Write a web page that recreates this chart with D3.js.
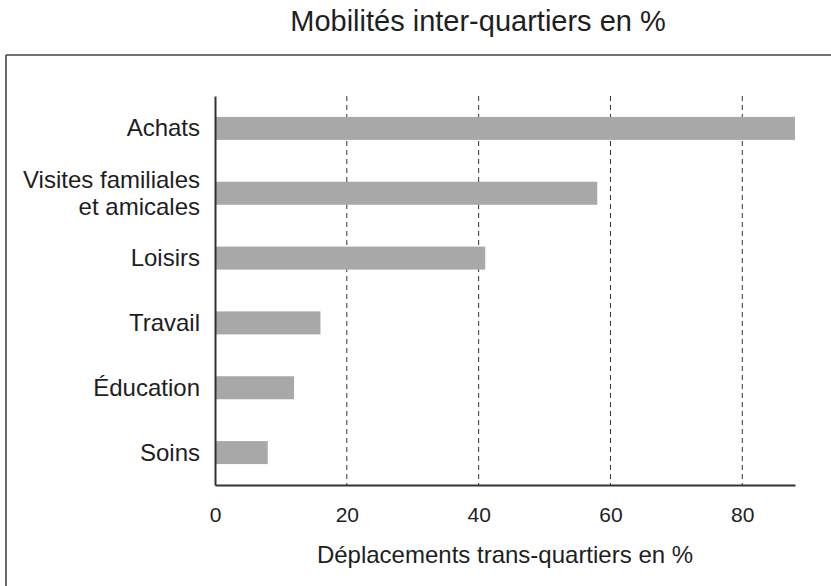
<!DOCTYPE html>
<html>
<head>
<meta charset="utf-8">
<script src="https://cdn.jsdelivr.net/npm/d3@7"></script>
<style>
  html, body { margin: 0; padding: 0; background: #fff; overflow: hidden; }
  svg { display: block; }
  text { font-family: "Liberation Sans", Arial, Helvetica, sans-serif; fill: #1e1e1e; }
</style>
</head>
<body>
<div id="chart"></div>
<script>

// data
var categories = ["Achats", "Visites familiales|et amicales", "Loisirs", "Travail", "Éducation", "Soins"];
var values = [88, 58, 41, 16, 12, 8];
var tickValues = [0, 20, 40, 60, 80];
var title = "Mobilités inter-quartiers en %";
var xTitle = "Déplacements trans-quartiers en %";

var width = 831, height = 586;
var margin = { top: 96, right: 36, bottom: 101, left: 215 };
var innerWidth = width - margin.left - margin.right;
var innerHeight = height - margin.top - margin.bottom;

var data = categories.map((c, i) => ({ cat: c, value: values[i] }));

var svg = d3.select("#chart").append("svg")
    .attr("width", width)
    .attr("height", height);

// frame: left and top edges only, the rest lies outside the picture
svg.append("line")
    .attr("x1", 6).attr("x2", 6)
    .attr("y1", 55).attr("y2", height)
    .attr("stroke", "#444").attr("stroke-width", 1.6);
svg.append("line")
    .attr("x1", 6).attr("x2", width)
    .attr("y1", 55).attr("y2", 55)
    .attr("stroke", "#444").attr("stroke-width", 1.6);

// title
svg.append("text")
    .attr("x", 478)
    .attr("y", 31)
    .attr("text-anchor", "middle")
    .style("font-size", "29px")
    .text(title);

var g = svg.append("g")
    .attr("transform", `translate(${margin.left}, ${margin.top})`);

/* Scales */
var xScale = d3.scaleLinear()
    .domain([0, 88])
    .range([0, innerWidth]);

var yScale = d3.scaleBand()
    .domain(categories)
    .range([0, innerHeight])
    .paddingInner(0.645)
    .paddingOuter(0.3225);

// dashed grid lines
g.selectAll(".grid")
    .data(tickValues.filter(d => d > 0))
    .enter().append("line")
    .attr("class", "grid")
    .attr("x1", d => xScale(d))
    .attr("x2", d => xScale(d))
    .attr("y1", 0)
    .attr("y2", innerHeight)
    .attr("stroke", "#333")
    .attr("stroke-width", 1)
    .attr("stroke-dasharray", "5,4");

// bars
g.selectAll(".bar")
    .data(data)
    .enter().append("rect")
    .attr("class", "bar")
    .attr("x", 0)
    .attr("y", d => yScale(d.cat))
    .attr("width", d => xScale(d.value))
    .attr("height", yScale.bandwidth())
    .style("fill", "#a8a8a8");

// x axis
var xAxis = d3.axisBottom(xScale)
    .tickValues(tickValues)
    .tickSize(0)
    .tickPadding(22);

var xAxisG = g.append("g")
    .attr("transform", `translate(0, ${innerHeight})`)
    .call(xAxis);
xAxisG.select(".domain").attr("stroke", "#333").attr("stroke-width", 2);
xAxisG.selectAll("text")
    .style("font-size", "21px")
    .attr("fill", "#1e1e1e");

// y axis: only the line, labels drawn below
var yAxis = d3.axisLeft(yScale).tickValues([]).tickSize(0);
var yAxisG = g.append("g").call(yAxis);
yAxisG.select(".domain").attr("stroke", "#333").attr("stroke-width", 2);

// category labels (may break over two lines)
g.selectAll(".label")
    .data(data)
    .enter().append("text")
    .attr("class", "label")
    .attr("text-anchor", "end")
    .style("font-size", "24px")
    .each(function(d) {
        var lines = d.cat.split("|");
        var cy = yScale(d.cat) + yScale.bandwidth() / 2;
        var el = d3.select(this);
        lines.forEach((t, i) => {
            el.append("tspan")
                .attr("x", -15)
                .attr("y", cy + 8 + (i - (lines.length - 1) / 2) * 26.5)
                .text(t);
        });
    });

// x axis title
g.append("text")
    .attr("x", innerWidth / 2)
    .attr("y", innerHeight + 78)
    .attr("text-anchor", "middle")
    .style("font-size", "24px")
    .text(xTitle);

</script>
</body>
</html>
